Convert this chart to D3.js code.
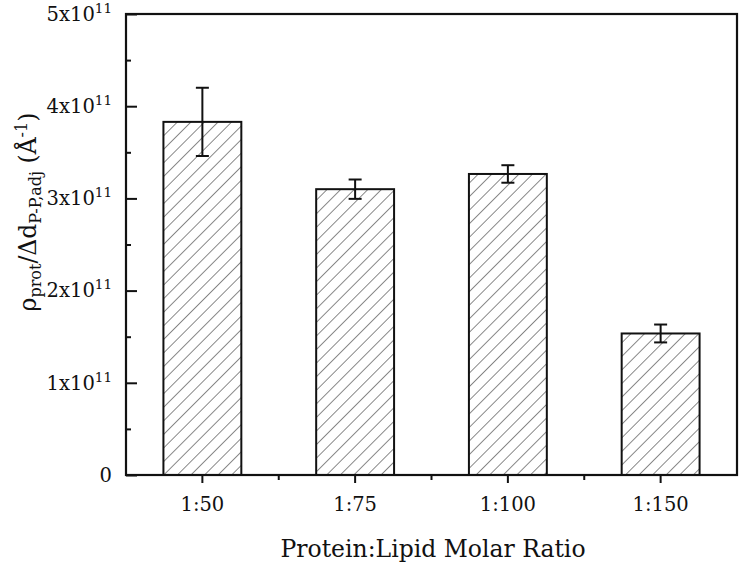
<!DOCTYPE html>
<html>
<head>
<meta charset="utf-8">
<script src="https://cdn.jsdelivr.net/npm/d3@7"></script>
<style>
  html, body { margin: 0; padding: 0; background: #fff; }
  svg { display: block; }
  text { font-family: "DejaVu Serif", serif; fill: #111; }
</style>
</head>
<body>
<div id="chart"></div>
<script>
// values (units of 1e11 Å^-1)
const ratios = ['1:50', '1:75', '1:100', '1:150'];
const values = [3.83, 3.10, 3.265, 1.535];
const errors = [0.37, 0.105, 0.095, 0.097];
const yTicks = [0, 1, 2, 3, 4, 5];
const yMinorTicks = [0.5, 1.5, 2.5, 3.5, 4.5];

const width = 740;
const height = 566;
const margin = {top: 14, right: 3, bottom: 91, left: 126};

const svg = d3.select('#chart')
  .append('svg')
  .attr('width', width)
  .attr('height', height);

const x = d3.scaleBand()
  .domain(ratios)
  .range([margin.left, width - margin.right])
  .padding(0);

const y = d3.scaleLinear()
  .domain([0, 5])
  .range([height - margin.bottom, margin.top]);

const barWidth = x.bandwidth() * 0.51;

// diagonal hatch
const defs = svg.append('defs');
defs.append('pattern')
  .attr('id', 'hatch')
  .attr('patternUnits', 'userSpaceOnUse')
  .attr('width', 9.6)
  .attr('height', 9.6)
  .attr('patternTransform', 'rotate(45)')
  .append('line')
  .attr('x1', 0).attr('y1', 0)
  .attr('x2', 0).attr('y2', 9.6)
  .attr('stroke', '#3a3a3a')
  .attr('stroke-width', 1.2);

// bars
svg.append('g')
  .selectAll('rect')
  .data(ratios)
  .enter().append('rect')
  .attr('x', (d) => x(d) + (x.bandwidth() - barWidth) / 2)
  .attr('y', (d, i) => y(values[i]))
  .attr('width', barWidth)
  .attr('height', (d, i) => y(0) - y(values[i]))
  .attr('fill', 'url(#hatch)')
  .attr('stroke', '#111')
  .attr('stroke-width', 2);

// error bars
const err = svg.append('g')
  .attr('stroke', '#111')
  .attr('stroke-width', 2)
  .attr('fill', 'none');

ratios.forEach((r, i) => {
  const cx = x(r) + x.bandwidth() / 2;
  const hi = y(values[i] + errors[i]);
  const lo = y(values[i] - errors[i]);
  err.append('line').attr('x1', cx).attr('x2', cx).attr('y1', hi).attr('y2', lo);
  err.append('line').attr('x1', cx - 6.5).attr('x2', cx + 6.5).attr('y1', hi).attr('y2', hi);
  err.append('line').attr('x1', cx - 6.5).attr('x2', cx + 6.5).attr('y1', lo).attr('y2', lo);
});

// y axis, ticks point inward
const yAxis = svg.append('g')
  .attr('transform', `translate(${margin.left},0)`)
  .call(d3.axisLeft(y)
    .tickValues(yTicks)
    .tickSizeInner(-11)
    .tickSizeOuter(0)
    .tickPadding(14)
    .tickFormat(d => d));

yAxis.select('.domain').remove();
yAxis.selectAll('line').attr('stroke', '#111').attr('stroke-width', 2);
yAxis.selectAll('text')
  .attr('font-size', 19.5)
  .attr('font-family', '"DejaVu Serif", serif')
  .attr('fill', '#111')
  .each(function (d) {
    const t = d3.select(this);
    t.text(null);
    if (d === 0) {
      t.text('0');
      return;
    }
    t.append('tspan').text(`${d}x10`);
    t.append('tspan')
      .attr('font-size', 13.5)
      .attr('dy', -8)
      .text('11');
  });

svg.append('g')
  .attr('transform', `translate(${margin.left},0)`)
  .call(d3.axisLeft(y)
    .tickValues(yMinorTicks)
    .tickSizeInner(-5)
    .tickSizeOuter(0)
    .tickFormat(''))
  .call(g => g.select('.domain').remove())
  .selectAll('line').attr('stroke', '#111').attr('stroke-width', 2);

// x axis, ticks point outward
const xAxis = svg.append('g')
  .attr('transform', `translate(0,${y(0)})`)
  .call(d3.axisBottom(x)
    .tickSizeInner(8)
    .tickSizeOuter(0)
    .tickPadding(14));

xAxis.select('.domain').remove();
xAxis.selectAll('line').attr('stroke', '#111').attr('stroke-width', 2);
xAxis.selectAll('text')
  .attr('font-size', 19.5)
  .attr('font-family', '"DejaVu Serif", serif')
  .attr('fill', '#111');

// minor x ticks on the band edges
const bandEdges = ratios.slice(1).map(r => x(r));
svg.append('g')
  .selectAll('line')
  .data(bandEdges)
  .enter().append('line')
  .attr('x1', d => d).attr('x2', d => d)
  .attr('y1', y(0)).attr('y2', y(0) + 5)
  .attr('stroke', '#111')
  .attr('stroke-width', 2);

// frame
svg.append('rect')
  .attr('x', margin.left)
  .attr('y', margin.top)
  .attr('width', width - margin.right - margin.left)
  .attr('height', y(0) - margin.top)
  .attr('fill', 'none')
  .attr('stroke', '#111')
  .attr('stroke-width', 2.2);

// axis titles
svg.append('text')
  .attr('x', 433)
  .attr('y', 557)
  .attr('text-anchor', 'middle')
  .attr('font-size', 23.5)
  .text('Protein:Lipid Molar Ratio');

const yTitle = svg.append('text')
  .attr('transform', 'translate(36,212) rotate(-90)')
  .attr('text-anchor', 'middle')
  .attr('font-size', 23.5);

yTitle.append('tspan').text('ρ');
yTitle.append('tspan').attr('font-size', 16).attr('dy', 5).text('prot');
yTitle.append('tspan').attr('dy', -5).text('/Δd');
yTitle.append('tspan').attr('font-size', 16).attr('dy', 5).text('P-P,adj');
yTitle.append('tspan').attr('dy', -5).text(' (Å');
yTitle.append('tspan').attr('font-size', 16).attr('dy', -9).text('-1');
yTitle.append('tspan').attr('dy', 9).text(')');
</script>
</body>
</html>
